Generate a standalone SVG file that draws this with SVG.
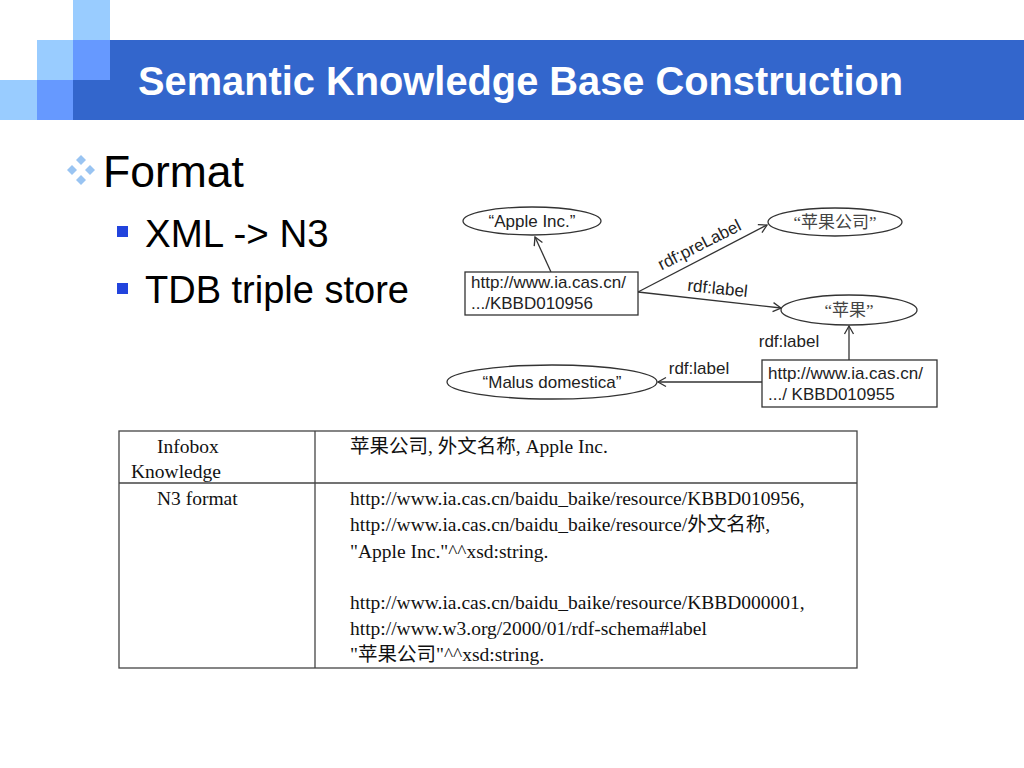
<svg xmlns="http://www.w3.org/2000/svg" width="1024" height="768" viewBox="0 0 1024 768">
<defs>
<style>
.title{font-family:"Liberation Sans",Arial,sans-serif;font-weight:bold;font-size:39.8px;fill:#ffffff}
.body{font-family:"Liberation Sans",Arial,sans-serif;fill:#000000}
.g{font-family:"Liberation Sans","Noto Sans CJK SC",sans-serif;font-size:17px;fill:#222222}
.gz{font-family:"Liberation Serif","Noto Sans CJK SC",serif;font-size:17px;fill:#444444}
.node{fill:#ffffff;stroke:#333333;stroke-width:1.3}
.edge{fill:none;stroke:#333333;stroke-width:1.3}
.t{font-family:"Liberation Serif","Noto Sans CJK SC",serif;font-size:19.5px;fill:#111111}
.cell{fill:none;stroke:#444444;stroke-width:1.3}
</style>
<marker id="arr" markerUnits="userSpaceOnUse" markerWidth="12" markerHeight="12" refX="10" refY="6" orient="auto">
<path d="M2,1.5 L10,6 L2,10.5" fill="none" stroke="#333333" stroke-width="1.3"/>
</marker>
</defs>
<rect x="0" y="0" width="1024" height="768" fill="#ffffff"/>
<g id="header">
<rect x="73" y="0" width="37" height="40" fill="#99ccff"/>
<rect x="37" y="40" width="36" height="40" fill="#99ccff"/>
<rect x="73" y="40" width="37" height="40" fill="#6699ff"/>
<rect x="0" y="80" width="37" height="40" fill="#99ccff"/>
<rect x="37" y="80" width="36" height="40" fill="#6699ff"/>
<rect x="110" y="40" width="914" height="40" fill="#3366cc"/>
<rect x="73" y="80" width="951" height="40" fill="#3366cc"/>
<text class="title" x="138" y="95">Semantic Knowledge Base Construction</text>
</g>
<g id="bullets">
<g fill="#99c4f2">
<path d="M81,155 L86,160 L81,165 L76,160 Z"/>
<path d="M72,165 L77,170 L72,175 L67,170 Z"/>
<path d="M90,165 L95,170 L90,175 L85,170 Z"/>
<path d="M81,175 L86,180 L81,185 L76,180 Z"/>
</g>
<text class="body" x="103" y="187" font-size="44.5">Format</text>
<rect x="117" y="226" width="11" height="11" fill="#2244dd"/>
<text class="body" x="145" y="247" font-size="38.5">XML -&gt; N3</text>
<rect x="117" y="283" width="11" height="11" fill="#2244dd"/>
<text class="body" x="145" y="303" font-size="38">TDB triple store</text>
</g>
<g id="connectors">
<line class="edge" x1="551" y1="272" x2="535" y2="237" marker-end="url(#arr)"/>
<line class="edge" x1="638" y1="292" x2="767" y2="225" marker-end="url(#arr)"/>
<line class="edge" x1="638" y1="292" x2="781" y2="308" marker-end="url(#arr)"/>
<line class="edge" x1="849" y1="360" x2="849" y2="326" marker-end="url(#arr)"/>
<line class="edge" x1="762" y1="382" x2="658" y2="382" marker-end="url(#arr)"/>
<text class="g" transform="translate(702,250) rotate(-27)" text-anchor="middle">rdf:preLabel</text>
<text class="g" transform="translate(717,294) rotate(6)" text-anchor="middle">rdf:label</text>
<text class="g" x="789" y="347" text-anchor="middle">rdf:label</text>
<text class="g" x="699" y="374" text-anchor="middle">rdf:label</text>
</g>
<g id="n-apple">
<ellipse class="node" cx="532" cy="221" rx="69" ry="14"/>
<text class="g" x="532" y="227" text-anchor="middle">“Apple Inc.”</text>
</g>
<g id="n-pingguogongsi">
<ellipse class="node" cx="835" cy="222" rx="67" ry="14"/>
<text class="gz" x="835" y="228" text-anchor="middle">“苹果公司”</text>
</g>
<g id="n-pingguo">
<ellipse class="node" cx="849" cy="310" rx="68" ry="15"/>
<text class="gz" x="849" y="316" text-anchor="middle">“苹果”</text>
</g>
<g id="n-kbbd010956">
<rect class="node" x="465" y="272" width="173" height="43"/>
<text class="g" x="471" y="288">http://www.ia.cas.cn/</text>
<text class="g" x="471" y="309">.../KBBD010956</text>
</g>
<g id="n-kbbd010955">
<rect class="node" x="762" y="360" width="175" height="47"/>
<text class="g" x="768" y="379">http://www.ia.cas.cn/</text>
<text class="g" x="768" y="400">.../ KBBD010955</text>
</g>
<g id="n-malus">
<ellipse class="node" cx="552" cy="382" rx="105" ry="17"/>
<text class="g" x="552" y="388" text-anchor="middle">“Malus domestica”</text>
</g>
<g id="table">
<rect class="cell" x="119" y="431" width="738" height="237"/>
<line class="cell" x1="315" y1="431" x2="315" y2="668"/>
<line class="cell" x1="119" y1="483" x2="857" y2="483"/>
<text class="t" x="157" y="453">Infobox</text>
<text class="t" x="131" y="478">Knowledge</text>
<text class="t" x="157" y="505">N3 format</text>
<text class="t" x="350" y="453">苹果公司, 外文名称, Apple Inc.</text>
<text class="t" x="350" y="505">http://www.ia.cas.cn/baidu_baike/resource/KBBD010956,</text>
<text class="t" x="350" y="531">http://www.ia.cas.cn/baidu_baike/resource/外文名称,</text>
<text class="t" x="350" y="558">"Apple Inc."^^xsd:string.</text>
<text class="t" x="350" y="609">http://www.ia.cas.cn/baidu_baike/resource/KBBD000001,</text>
<text class="t" x="350" y="635">http://www.w3.org/2000/01/rdf-schema#label</text>
<text class="t" x="350" y="661">"苹果公司"^^xsd:string.</text>
</g>
</svg>
